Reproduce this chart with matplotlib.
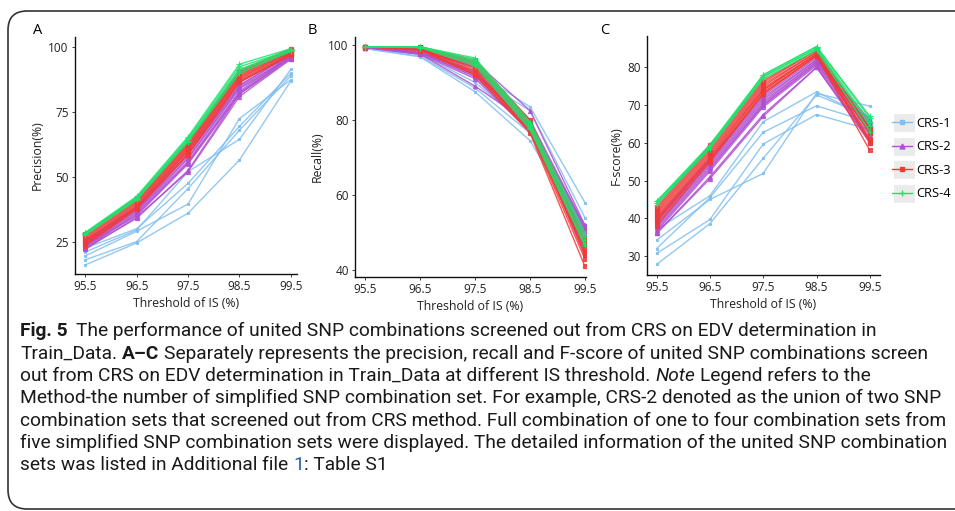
import matplotlib
matplotlib.use("Agg")
import matplotlib.pyplot as plt
from matplotlib.lines import Line2D
from matplotlib.patches import FancyBboxPatch, Rectangle

# Data
thresholds = [95.5, 96.5, 97.5, 98.5, 99.5]
xtick_labels = ["95.5", "96.5", "97.5", "98.5", "99.5"]
groups = ["CRS-1", "CRS-2", "CRS-3", "CRS-4"]

precision_crs1 = [
    [22.5, 30.0, 47.5, 69.5, 90.0],
    [21.0, 29.5, 52.0, 64.5, 91.5],
    [19.5, 29.0, 39.5, 72.5, 87.5],
    [18.0, 25.0, 45.5, 68.0, 89.0],
    [16.0, 24.5, 36.0, 56.5, 87.0],
]
precision_crs2 = [
    [25.5, 38.5, 60.0, 86.5, 97.5],
    [25.0, 38.0, 59.0, 85.5, 97.0],
    [24.5, 37.5, 58.5, 85.0, 97.5],
    [24.0, 37.0, 57.5, 84.5, 96.5],
    [23.5, 36.5, 57.0, 84.0, 96.0],
    [23.0, 36.0, 56.0, 83.0, 97.0],
    [22.5, 35.5, 55.5, 82.5, 96.0],
    [23.5, 35.0, 55.0, 82.0, 95.5],
    [22.0, 34.5, 52.0, 81.0, 95.5],
    [22.5, 34.0, 52.5, 82.0, 96.5],
]
precision_crs3 = [
    [28.0, 42.0, 63.5, 91.0, 99.5],
    [27.5, 41.5, 63.0, 90.5, 99.0],
    [27.0, 41.0, 62.5, 90.0, 99.0],
    [26.5, 40.5, 62.0, 89.5, 98.5],
    [26.0, 40.0, 61.5, 89.0, 98.5],
    [25.5, 39.5, 61.0, 88.5, 98.0],
    [25.0, 39.0, 60.5, 88.0, 98.0],
    [24.5, 38.5, 60.0, 87.5, 97.5],
    [24.0, 38.0, 59.0, 87.0, 97.0],
    [23.5, 37.5, 58.5, 86.5, 97.0],
]
precision_crs4 = [
    [28.5, 42.5, 65.5, 93.5, 99.5],
    [28.5, 42.0, 65.0, 92.5, 99.0],
    [28.0, 41.5, 64.5, 91.5, 99.0],
    [28.0, 41.5, 64.0, 91.0, 98.5],
    [27.5, 41.0, 63.5, 90.0, 98.5],
]

recall_crs1 = [
    [99.5, 98.5, 93.0, 83.5, 58.0],
    [99.3, 98.0, 91.5, 82.5, 54.0],
    [99.3, 97.5, 90.0, 78.0, 52.0],
    [99.0, 97.0, 88.5, 76.5, 51.0],
    [99.0, 96.8, 87.5, 74.5, 50.0],
]
recall_crs2 = [
    [99.5, 99.0, 95.5, 82.5, 52.0],
    [99.5, 99.0, 95.0, 80.0, 51.5],
    [99.5, 98.5, 94.5, 79.5, 51.0],
    [99.5, 98.5, 94.0, 79.0, 50.5],
    [99.5, 98.0, 93.0, 78.5, 49.5],
    [99.5, 98.0, 92.5, 78.0, 49.0],
    [99.3, 97.8, 91.5, 77.5, 48.0],
    [99.3, 97.5, 91.0, 77.0, 46.5],
    [99.3, 97.5, 89.0, 79.0, 45.0],
    [99.3, 97.8, 92.0, 78.5, 44.0],
]
recall_crs3 = [
    [99.5, 99.5, 96.0, 80.0, 48.0],
    [99.5, 99.5, 95.5, 79.5, 47.5],
    [99.5, 99.3, 95.0, 79.0, 47.0],
    [99.5, 99.3, 94.5, 78.5, 46.5],
    [99.5, 99.0, 94.0, 78.0, 46.0],
    [99.5, 99.0, 93.5, 77.5, 45.5],
    [99.5, 99.0, 93.0, 77.0, 45.0],
    [99.5, 98.8, 92.5, 78.0, 44.0],
    [99.5, 98.8, 92.0, 77.0, 43.0],
    [99.5, 98.5, 92.0, 76.5, 41.0],
]
recall_crs4 = [
    [99.5, 99.5, 96.5, 79.5, 50.0],
    [99.5, 99.5, 96.0, 79.0, 49.0],
    [99.5, 99.5, 95.5, 78.5, 48.0],
    [99.5, 99.3, 95.0, 78.0, 47.0],
    [99.5, 99.3, 94.5, 77.5, 46.5],
]

fscore_crs1 = [
    [37.0, 46.0, 65.6, 73.5, 66.5],
    [34.2, 45.0, 51.9, 73.1, 69.7],
    [32.0, 45.5, 62.8, 69.8, 65.5],
    [30.7, 39.7, 59.7, 67.5, 63.5],
    [27.8, 38.6, 55.9, 72.7, 66.8],
]
fscore_crs2 = [
    [40.0, 56.0, 72.5, 82.5, 66.0],
    [39.5, 55.5, 72.0, 82.0, 65.5],
    [39.0, 55.0, 71.5, 82.0, 65.0],
    [38.5, 54.5, 71.0, 81.5, 64.5],
    [38.0, 54.0, 70.5, 81.5, 64.0],
    [37.5, 53.5, 70.0, 81.0, 63.0],
    [37.0, 53.0, 70.0, 81.0, 62.0],
    [36.5, 52.5, 69.5, 80.5, 61.0],
    [36.0, 51.0, 67.5, 80.0, 60.5],
    [36.0, 50.5, 67.0, 80.0, 60.0],
]
fscore_crs3 = [
    [43.0, 59.5, 76.5, 84.5, 64.0],
    [42.5, 59.0, 76.0, 84.5, 63.5],
    [42.0, 58.5, 75.5, 84.0, 63.5],
    [41.5, 58.0, 75.0, 84.0, 63.0],
    [41.0, 57.5, 74.5, 83.5, 62.5],
    [40.5, 57.0, 74.0, 83.5, 62.5],
    [40.0, 56.5, 74.0, 83.5, 61.0],
    [39.5, 56.0, 73.5, 83.0, 60.5],
    [39.0, 55.5, 73.0, 83.0, 60.0],
    [38.0, 55.0, 73.0, 83.0, 58.0],
]
fscore_crs4 = [
    [44.5, 59.5, 78.0, 85.5, 67.0],
    [44.5, 59.0, 78.0, 85.5, 66.5],
    [44.0, 59.0, 77.5, 85.0, 65.5],
    [44.0, 58.5, 77.5, 85.0, 64.5],
    [43.5, 58.5, 77.0, 84.5, 63.0],
]

colors = ["#80bff0", "#b14fd0", "#f03a3a", "#1fe36f"]
markers = ["s", "^", "s", "+"]
msizes = [2.0, 3.0, 2.5, 4.0]

W, H = 955, 511
fig = plt.figure(figsize=(W / 100, H / 100), dpi=100)
plt.rcParams['font.family'] = ['Open Sans', 'DejaVu Sans']


def box(l, r, t, b):
    return [l / W, 1 - b / H, (r - l) / W, (b - t) / H]


panels = [
    ("A", box(75, 297, 37, 274), [precision_crs1, precision_crs2, precision_crs3, precision_crs4],
     "Precision(%)", (12.5, 104), [25, 50, 75, 100], (95.3, 99.62), 38),
    ("B", box(355, 586, 37, 277), [recall_crs1, recall_crs2, recall_crs3, recall_crs4],
     "Recall(%)", (38.2, 102.1), [40, 60, 80, 100], (95.31, 99.52), 312),
    ("C", box(647, 880, 36, 275), [fscore_crs1, fscore_crs2, fscore_crs3, fscore_crs4],
     "F-score(%)", (25, 88.3), [30, 40, 50, 60, 70, 80], (95.32, 99.69), 605),
]

for letter, pos, series, ylab, ylim, yticks, xlim, lx in panels:
    ax = fig.add_axes(pos)
    for gi, lines in enumerate(series):
        for vals in lines:
            ax.plot(thresholds, vals, color=colors[gi], lw=1.0, alpha=0.85,
                    marker=markers[gi], ms=msizes[gi], mew=0.8)
    ax.set_xlim(xlim)
    ax.set_ylim(ylim)
    ax.set_xticks(thresholds)
    ax.set_xticklabels(xtick_labels)
    ax.set_yticks(yticks)
    ax.tick_params(labelsize=8.5, length=2.5, width=0.6, pad=2, colors="#222222")
    for s in ["top", "right"]:
        ax.spines[s].set_visible(False)
    for s in ["left", "bottom"]:
        ax.spines[s].set_linewidth(1.0)
        ax.spines[s].set_color("#111111")
    ax.set_xlabel("Threshold of IS (%)", fontsize=8.8, labelpad=3, color="#222222")
    ax.set_ylabel(ylab, fontsize=8.8, labelpad=3, color="#222222")
    fig.text(lx / W, 1 - 30 / H, letter, fontsize=10.5, ha="center", va="center")

# legend with grey key boxes
for i in range(4):
    yc = [123, 147, 170, 194][i]
    fig.add_artist(Rectangle((894 / W, 1 - (yc + 9) / H), 21 / W, 18 / H,
                             transform=fig.transFigure, facecolor="#ebebeb",
                             edgecolor="none", zorder=0))
handles = [Line2D([0], [0], color=colors[i], lw=1.0, marker=markers[i], ms=msizes[i] + 0.5)
           for i in range(4)]
fig.legend(handles, groups, loc="center left", bbox_to_anchor=(892 / W, 1 - 158.5 / H),
           frameon=False, fontsize=9.3, handlelength=1.55, handletextpad=0.35,
           labelspacing=0.82, borderaxespad=0, borderpad=0)

# caption frame
fig.add_artist(FancyBboxPatch((8 / W, 1 - 509 / H), 1000 / W, 498 / H,
                              boxstyle="round,pad=0,rounding_size=0.02",
                              transform=fig.transFigure, facecolor="none",
                              edgecolor="#333333", lw=1.2, mutation_aspect=W / H))

# caption text
cap_font = ['Roboto', 'DejaVu Sans']
renderer = fig.canvas.get_renderer()

lines_text = [
    [("Fig. 5", {"weight": "bold"}, 1.8),
     ("The performance of united SNP combinations screened out from CRS on EDV determination in", {}, 0)],
    [("Train_Data.", {}, 1), ("A\u2013C", {"weight": "bold"}, 1),
     ("Separately represents the precision, recall and F-score of united SNP combinations screen", {}, 0)],
    [("out from CRS on EDV determination in Train_Data at different IS threshold.", {}, 1),
     ("Note", {"style": "italic"}, 1), ("Legend refers to the", {}, 0)],
    [("Method-the number of simplified SNP combination set. For example, CRS-2 denoted as the union of two SNP", {}, 0)],
    [("combination sets that screened out from CRS method. Full combination of one to four combination sets from", {}, 0)],
    [("five simplified SNP combination sets were displayed. The detailed information of the united SNP combination", {}, 0)],
    [("sets was listed in Additional file", {}, 1), ("1", {"color": "#2a5db0"}, 0),
     (": Table S1", {}, 0)],
]
line_y = [331, 354, 376, 398, 421, 443, 465]


def make_text(x, y, txt, size, kw, **extra):
    return fig.text(x, y, txt, family=cap_font, fontsize=size,
                    fontweight=kw.get("weight", "normal"), fontstyle=kw.get("style", "normal"),
                    **extra)


def width_of(txt, size, kw=None):
    t = make_text(0, 0, txt, size, kw or {})
    w = t.get_window_extent(renderer).width
    t.remove()
    return w


# size the caption so the longest line spans the box like the reference
widest = max(width_of(" ".join(p[0] for p in parts), 10) for parts in lines_text)
cap_size = min(10 * 926 / widest, 15)
space_w = width_of("a a", cap_size) - width_of("aa", cap_size)

for ypix, parts in zip(line_y, lines_text):
    x = 20.0
    for txt, kw, gap in parts:
        make_text(x / W, 1 - ypix / H, txt, cap_size, kw, va="center", ha="left",
                  color=kw.get("color", "#1a1a1a"))
        x += width_of(txt, cap_size, kw) + gap * space_w

fig.savefig("out.png", dpi=100)
